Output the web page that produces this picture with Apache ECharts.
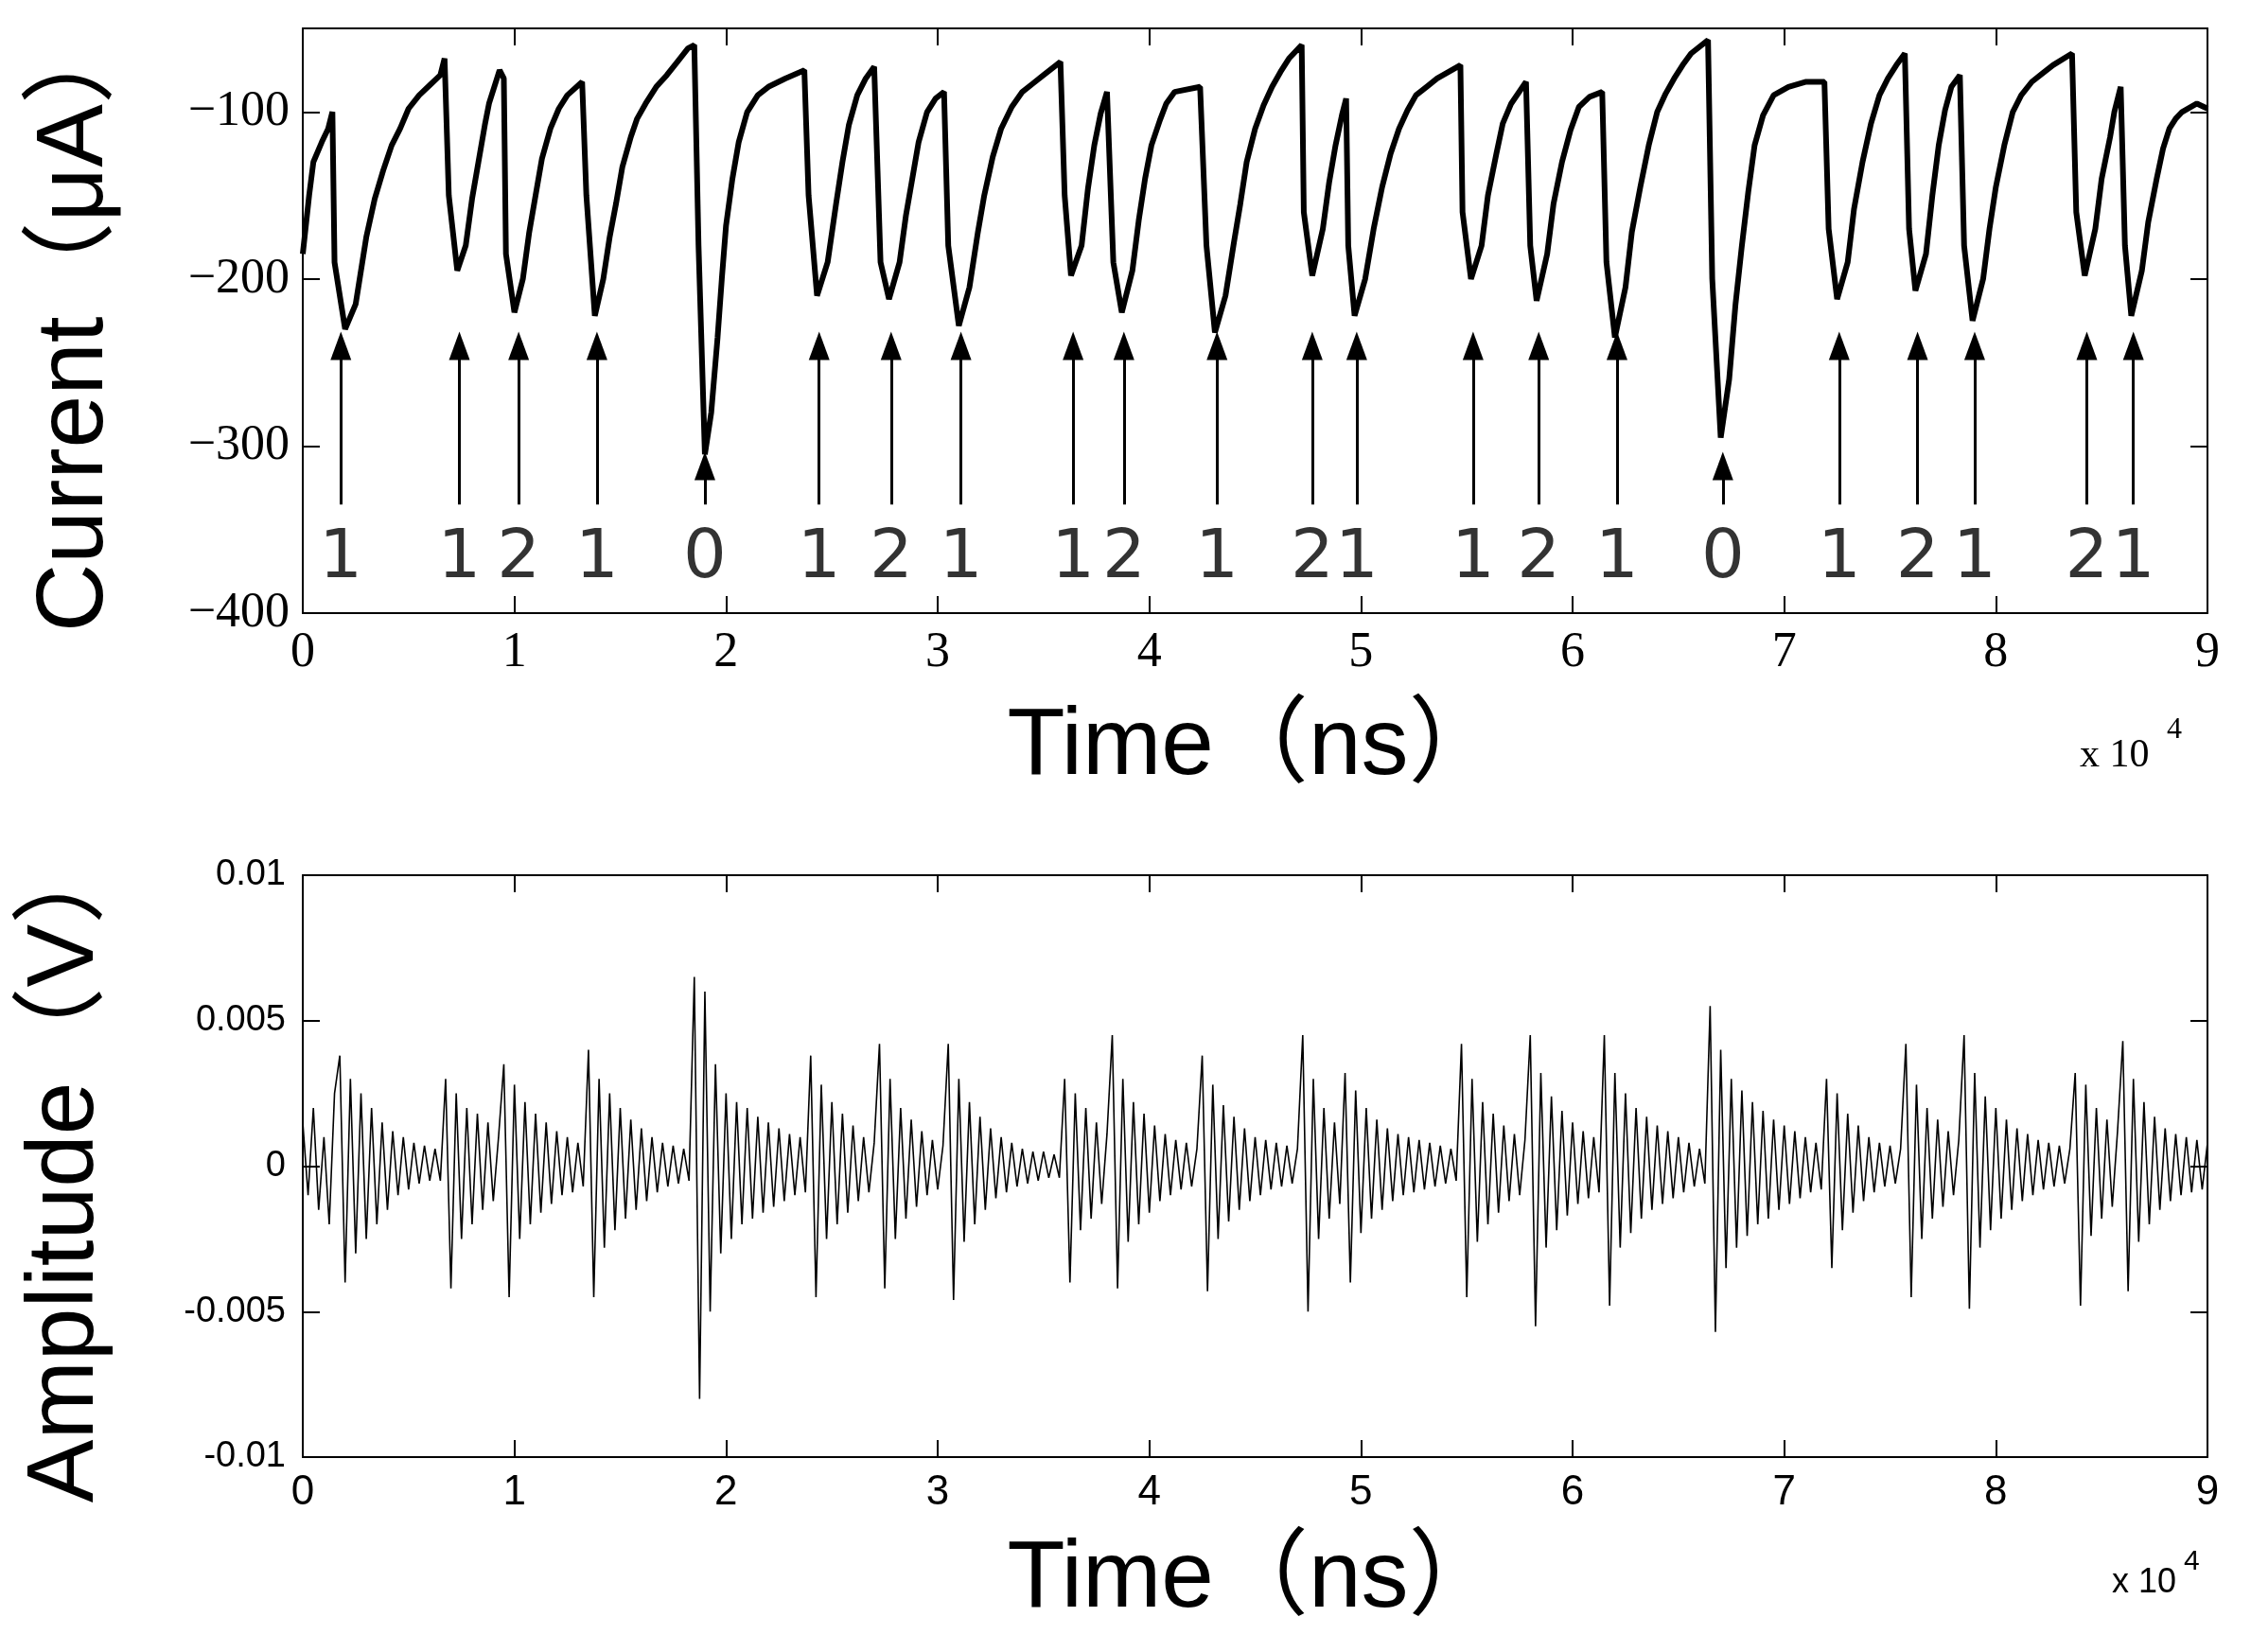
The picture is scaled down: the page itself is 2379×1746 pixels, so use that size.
<!DOCTYPE html>
<html><head><meta charset="utf-8">
<script src="https://cdn.jsdelivr.net/npm/echarts@6/dist/echarts.min.js"></script>
<style>html,body{margin:0;background:#fff}#c{width:2379px;height:1746px}</style>
</head><body><div id="c"></div>
<script>
// Top: current trace, x in units of 1e4 ns, y in µA
const currentTrace = [[0,-185],[0.03,-150],[0.05,-130],[0.09,-118],[0.12,-110],[0.14,-100],[0.15,-190],[0.2,-230],[0.25,-215],[0.3,-175],[0.34,-152],[0.38,-135],[0.42,-120],[0.46,-110],[0.5,-98],[0.55,-90],[0.6,-84],[0.65,-78],[0.67,-68],
[0.69,-150],[0.73,-195],[0.77,-180],[0.8,-152],[0.83,-130],[0.86,-108],[0.88,-95],[0.93,-75],
[0.95,-80],[0.96,-185],[1.0,-220],[1.04,-200],[1.07,-172],[1.1,-150],[1.13,-128],[1.17,-110],[1.21,-98],[1.25,-90],[1.32,-82],
[1.34,-150],[1.38,-222],[1.42,-200],[1.45,-175],[1.48,-155],[1.51,-133],[1.55,-115],[1.58,-104],[1.62,-95],[1.67,-85],[1.72,-78],[1.77,-70],[1.82,-62],[1.85,-60],
[1.87,-180],[1.9,-305],[1.93,-280],[1.96,-235],[1.98,-200],[2.0,-168],[2.03,-140],[2.06,-118],[2.1,-100],[2.15,-90],[2.2,-85],[2.28,-80],[2.37,-75],
[2.39,-150],[2.43,-210],[2.48,-190],[2.52,-155],[2.55,-130],[2.58,-108],[2.62,-90],[2.66,-80],[2.7,-73],
[2.73,-190],[2.77,-212],[2.82,-190],[2.85,-162],[2.88,-140],[2.91,-118],[2.95,-100],[2.99,-92],[3.03,-88],
[3.05,-180],[3.1,-228],[3.15,-205],[3.19,-172],[3.22,-150],[3.26,-127],[3.3,-110],[3.35,-97],[3.4,-88],[3.45,-83],[3.5,-78],[3.58,-70],
[3.6,-150],[3.63,-198],[3.68,-180],[3.71,-146],[3.74,-120],[3.77,-101],[3.8,-88],
[3.83,-190],[3.87,-220],[3.92,-195],[3.95,-165],[3.98,-140],[4.01,-120],[4.05,-105],[4.08,-95],[4.12,-88],[4.24,-85],
[4.27,-180],[4.31,-232],[4.36,-210],[4.4,-178],[4.43,-155],[4.46,-130],[4.5,-110],[4.54,-96],[4.58,-85],[4.62,-76],[4.66,-68],[4.72,-60],
[4.73,-160],[4.77,-198],[4.82,-170],[4.85,-142],[4.88,-120],[4.91,-102],[4.93,-92],
[4.94,-180],[4.97,-222],[5.02,-200],[5.06,-170],[5.1,-145],[5.14,-125],[5.18,-110],[5.22,-99],[5.26,-90],[5.31,-85],[5.36,-80],[5.47,-72],
[5.48,-160],[5.52,-200],[5.57,-180],[5.6,-150],[5.64,-125],[5.67,-107],[5.71,-95],[5.78,-82],
[5.8,-180],[5.83,-213],[5.88,-185],[5.91,-155],[5.95,-130],[5.99,-111],[6.03,-97],[6.08,-91],[6.14,-88],
[6.16,-190],[6.2,-235],[6.25,-205],[6.28,-172],[6.32,-145],[6.36,-120],[6.4,-100],[6.44,-89],[6.48,-80],[6.52,-72],[6.56,-65],[6.64,-57],
[6.66,-200],[6.7,-295],[6.74,-260],[6.77,-215],[6.8,-180],[6.83,-148],[6.86,-120],[6.9,-102],[6.95,-90],[7.02,-85],[7.1,-82],[7.19,-82],
[7.21,-170],[7.25,-212],[7.3,-190],[7.33,-158],[7.37,-130],[7.41,-107],[7.45,-90],[7.49,-80],[7.53,-72],[7.57,-65],
[7.59,-170],[7.62,-207],[7.67,-185],[7.7,-150],[7.73,-120],[7.76,-99],[7.79,-85],[7.83,-78],
[7.85,-180],[7.89,-225],[7.94,-200],[7.97,-170],[8.0,-145],[8.04,-120],[8.08,-100],[8.12,-90],[8.17,-82],[8.22,-77],[8.27,-72],[8.36,-65],
[8.38,-160],[8.42,-198],[8.47,-170],[8.5,-140],[8.54,-115],[8.56,-100],[8.59,-85],
[8.61,-180],[8.64,-222],[8.69,-195],[8.72,-166],[8.76,-140],[8.79,-122],[8.82,-110],[8.85,-104],[8.88,-100],[8.95,-95],[9.0,-98]];

const arrowX = [0.18,0.74,1.02,1.39,1.9,2.44,2.78,3.11,3.64,3.88,4.32,4.77,4.98,5.53,5.84,6.21,6.71,7.26,7.63,7.9,8.43,8.65];
const arrowLabels = ['1','1','2','1','0','1','2','1','1','2','1','2','1','1','2','1','0','1','2','1','2','1'];

// Bottom: amplitude samples in mV, sampled every 250 ns
const sampleStepNs = 250;
const amplitudeMv = [1.5,-1,2,-1.5,1,-2,2.5,
3.8,-4,3,-3,2.5,-2.5,2,-2,1.5,-1.5,1.2,-1,1,-0.8,0.8,-0.6,0.7,-0.5,0.6,-0.5,
3,-4.2,2.5,-2.5,2,-2,1.8,-1.5,1.5,-1.2,1,
3.5,-4.5,2.8,-2.5,2.2,-2,1.8,-1.6,1.5,-1.3,1.2,-1,1,-0.9,0.8,-0.7,
4,-4.5,3,-2.8,2.5,-2.2,2,-1.8,1.6,-1.5,1.3,-1.2,1,-0.9,0.8,-0.7,0.7,-0.6,0.6,-0.5,
6.5,-8,6,-5,3.5,-3,2.5,-2.5,2.2,-2,2,-1.8,1.7,-1.6,1.5,-1.4,1.3,-1.2,1.1,-1,1,-0.9,
3.8,-4.5,2.8,-2.5,2.2,-2,1.8,-1.6,1.4,-1.2,1,-0.9,0.8,
4.2,-4.2,3,-2.5,2,-1.8,1.6,-1.4,1.2,-1,0.9,-0.8,0.7,
4.2,-4.6,3,-2.6,2.2,-2,1.7,-1.5,1.3,-1.1,1,-0.9,0.8,-0.7,0.6,-0.6,0.5,-0.5,0.5,-0.4,0.4,-0.4,
3,-4,2.5,-2.2,2,-1.8,1.5,-1.3,1.1,
4.5,-4.2,3,-2.6,2.2,-2,1.8,-1.6,1.4,-1.2,1.1,-1,0.9,-0.8,0.8,-0.7,0.6,
3.8,-4.3,2.8,-2.5,2.1,-1.9,1.7,-1.5,1.3,-1.2,1,-1,0.9,-0.8,0.8,-0.7,0.7,-0.6,0.6,
4.5,-5,3,-2.5,2,-1.8,1.5,-1.3,
3.2,-4,2.6,-2.3,2,-1.8,1.6,-1.5,1.3,-1.2,1.1,-1,1,-0.9,0.9,-0.8,0.8,-0.7,0.7,-0.6,0.6,-0.5,
4.2,-4.5,3,-2.6,2.2,-2,1.8,-1.6,1.4,-1.2,1.1,-1,0.9,
4.5,-5.5,3.2,-2.8,2.4,-2.2,1.9,-1.7,1.5,-1.3,1.2,-1.1,1,-0.9,
4.5,-4.8,3.2,-2.8,2.5,-2.3,2,-1.8,1.7,-1.5,1.4,-1.3,1.2,-1.1,1,-0.9,0.8,-0.7,0.6,-0.6,
5.5,-5.7,4,-3.5,3,-2.8,2.6,-2.4,2.2,-2,1.9,-1.8,1.6,-1.5,1.4,-1.3,1.2,-1.1,1,-0.9,0.8,-0.8,
3,-3.5,2.5,-2.2,1.8,-1.6,1.4,-1.2,1,-0.9,0.8,-0.7,0.7,-0.6,0.6,
4.2,-4.5,2.8,-2.5,2,-1.8,1.6,-1.4,1.2,-1,0.9,
4.5,-4.9,3.2,-2.8,2.4,-2.2,2,-1.8,1.6,-1.5,1.3,-1.2,1.1,-1,0.9,-0.8,0.8,-0.7,0.7,-0.6,0.6,
3.2,-4.8,2.8,-2.4,2,-1.8,1.6,-1.4,1.2,
4.3,-4.3,3,-2.6,2.2,-2,1.7,-1.5,1.3,-1.2,1.1,-1,1,-0.9,0.9,-0.8,0.8];

const topYTicks = [-400,-300,-200,-100];
const ampTickLabels = {'-10':'-0.01','-5':'-0.005','0':'0','5':'0.005','10':'0.01'};

const ampData = amplitudeMv.map((v,i)=>[i*sampleStepNs/1e4, v]);

const serif = 'Liberation Serif';
const sans = 'Liberation Sans, Noto Sans CJK SC';
const axisLine = {show:true, onZero:false, lineStyle:{color:'#000', width:2}};
const tick = {show:true, inside:true, length:18, lineStyle:{color:'#000', width:2}};
const grids = [
  {left:320, right:46, top:30, height:618},
  {left:320, right:46, top:925, height:615}
];
function xAx(g, font, size, name, gap){
  return {type:'value', gridIndex:g, position:'bottom', min:0, max:9, interval:1, axisLine, axisTick:tick, splitLine:{show:false},
    axisLabel:{fontFamily:font, fontSize:size, color:'#000', margin:16},
    name, nameLocation:'middle', nameGap:gap, nameTextStyle:{fontFamily:sans, fontSize:100, color:'#000'}};
}
function xTop(g){return {type:'value', gridIndex:g, position:'top', min:0, max:9, interval:1, axisLine, axisTick:tick, axisLabel:{show:false}, splitLine:{show:false}};}
const option = {
  animation:false,
  grid: grids,
  xAxis:[xAx(0, serif, 52, 'Time（ns）', 92), xTop(0), xAx(1, sans, 44, 'Time（ns）', 80), xTop(1)],
  yAxis:[
    {type:'value', gridIndex:0, position:'left', min:-400, max:-50, interval:100, axisLine, axisTick:tick, splitLine:{show:false},
     axisLabel:{fontFamily:serif, fontSize:52, color:'#000', margin:14, formatter:v=> topYTicks.includes(v)? '\u2212'+Math.abs(v):''},
     name:'Current（μA）', nameLocation:'middle', nameGap:190, nameTextStyle:{fontFamily:sans, fontSize:100, color:'#000'}},
    {type:'value', gridIndex:0, position:'right', min:-400, max:-50, interval:100, axisLine, axisTick:tick, axisLabel:{show:false}, splitLine:{show:false}},
    {type:'value', gridIndex:1, position:'left', min:-10, max:10, interval:5, axisLine, axisTick:tick, splitLine:{show:false},
     axisLabel:{fontFamily:sans, fontSize:38, color:'#000', margin:18, formatter:v=>ampTickLabels[String(v)]},
     name:'Amplitude（V）', nameLocation:'middle', nameGap:200, nameTextStyle:{fontFamily:sans, fontSize:100, color:'#000'}},
    {type:'value', gridIndex:1, position:'right', min:-10, max:10, interval:5, axisLine, axisTick:tick, axisLabel:{show:false}, splitLine:{show:false}}
  ],
  series:[
    {type:'line', xAxisIndex:0, yAxisIndex:0, data:currentTrace, showSymbol:false, lineStyle:{color:'#000', width:6}},
    {type:'scatter', xAxisIndex:0, yAxisIndex:0, symbolSize:0,
     data: arrowX.map((x,i)=>({value:[x,-368], label:{show:true, formatter:arrowLabels[i], color:'#000'}})),
     label:{position:'inside', fontFamily:'DejaVu Sans', fontSize:72, color:'#000'},
     markLine:{silent:true, symbol:['none','triangle'], symbolSize:[22,30], lineStyle:{color:'#000', width:3, type:'solid'}, label:{show:false},
       data: arrowX.map((x,i)=> arrowLabels[i]==='0' ? [{coord:[x,-335]},{coord:[x,-312]}] : [{coord:[x,-335]},{coord:[x,-240]}])}},
    {type:'line', xAxisIndex:2, yAxisIndex:2, data:ampData, showSymbol:false, lineStyle:{color:'#000', width:1.6}}
  ],
  graphic:[
    {type:'text', left:2198, top:778, style:{text:'x 10', font:'42px Liberation Serif', fill:'#000'}},
    {type:'text', left:2290, top:756, style:{text:'4', font:'32px Liberation Serif', fill:'#000'}},
    {type:'text', left:2232, top:1655, style:{text:'x 10', font:'36px Liberation Sans', fill:'#000'}},
    {type:'text', left:2308, top:1636, style:{text:'4', font:'30px Liberation Sans', fill:'#000'}}
  ]
};
echarts.init(document.getElementById('c')).setOption(option);
</script></body></html>
